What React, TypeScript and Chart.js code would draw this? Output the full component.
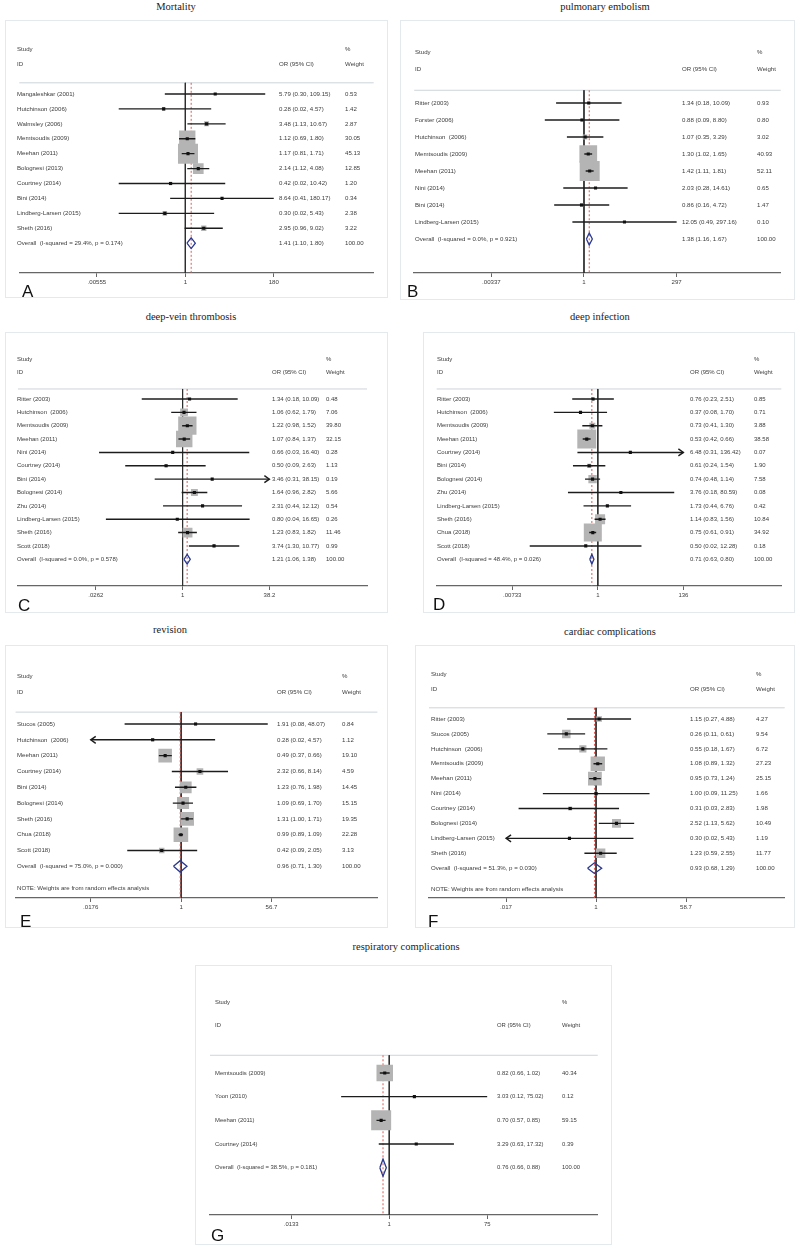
import React, { useEffect, useRef } from "react";
import { Chart, registerables } from "chart.js";

Chart.register(...registerables);

// ---------------- DATA ----------------
// A. Mortality
const studiesA = ["Mangaleshkar (2001)", "Hutchinson (2006)", "Walmsley (2006)", "Memtsoudis (2009)", "Meehan (2011)", "Bolognesi (2013)", "Courtney (2014)", "Bini (2014)", "Lindberg-Larsen (2015)", "Sheth (2016)"];
const orA = [5.79, 0.28, 3.48, 1.12, 1.17, 2.14, 0.42, 8.64, 0.30, 2.95];
const loA = [0.30, 0.02, 1.13, 0.69, 0.81, 1.12, 0.02, 0.41, 0.02, 0.96];
const hiA = [109.15, 4.57, 10.67, 1.80, 1.71, 4.08, 10.42, 180.17, 5.43, 9.02];
const weightA = [0.53, 1.42, 2.87, 30.05, 45.13, 12.85, 1.20, 0.34, 2.38, 3.22];
const arrowA = [0, 0, 0, 0, 0, 0, 0, 0, 0, 0];
const overallA = [1.41, 1.10, 1.80];
const overallLabelA = "Overall  (I-squared = 29.4%, p = 0.174)";
const ticksA = [0.00555, 1, 180.17];
const tickLabelsA = [".00555", "1", "180"];

// B. Pulmonary embolism
const studiesB = ["Ritter (2003)", "Forster (2006)", "Hutchinson  (2006)", "Memtsoudis (2009)", "Meehan (2011)", "Nini (2014)", "Bini (2014)", "Lindberg-Larsen (2015)"];
const orB = [1.34, 0.88, 1.07, 1.30, 1.42, 2.03, 0.86, 12.05];
const loB = [0.18, 0.09, 0.35, 1.02, 1.11, 0.28, 0.16, 0.49];
const hiB = [10.09, 8.80, 3.29, 1.65, 1.81, 14.61, 4.72, 297.16];
const weightB = [0.93, 0.80, 3.02, 40.93, 52.11, 0.65, 1.47, 0.10];
const arrowB = [0, 0, 0, 0, 0, 0, 0, 0];
const overallB = [1.38, 1.16, 1.67];
const overallLabelB = "Overall  (I-squared = 0.0%, p = 0.921)";
const ticksB = [0.00337, 1, 297.16];
const tickLabelsB = [".00337", "1", "297"];

// C. Deep-vein thrombosis
const studiesC = ["Ritter (2003)", "Hutchinson  (2006)", "Memtsoudis (2009)", "Meehan (2011)", "Nini (2014)", "Courtney (2014)", "Bini (2014)", "Bolognesi (2014)", "Zhu (2014)", "Lindberg-Larsen (2015)", "Sheth (2016)", "Scott (2018)"];
const orC = [1.34, 1.06, 1.22, 1.07, 0.66, 0.50, 3.46, 1.64, 2.31, 0.80, 1.23, 3.74];
const loC = [0.18, 0.62, 0.98, 0.84, 0.03, 0.09, 0.31, 0.96, 0.44, 0.04, 0.83, 1.30];
const hiC = [10.09, 1.79, 1.52, 1.37, 16.40, 2.63, 38.15, 2.82, 12.12, 16.65, 1.82, 10.77];
const weightC = [0.48, 7.06, 39.80, 32.15, 0.28, 1.13, 0.19, 5.66, 0.54, 0.26, 11.46, 0.99];
const arrowC = [0, 0, 0, 0, 0, 0, 1, 0, 0, 0, 0, 0];
const overallC = [1.21, 1.06, 1.38];
const overallLabelC = "Overall  (I-squared = 0.0%, p = 0.578)";
const ticksC = [0.0262, 1, 38.15];
const tickLabelsC = [".0262", "1", "38.2"];

// D. Deep infection
const studiesD = ["Ritter (2003)", "Hutchinson  (2006)", "Memtsoudis (2009)", "Meehan (2011)", "Courtney (2014)", "Bini (2014)", "Bolognesi (2014)", "Zhu (2014)", "Lindberg-Larsen (2015)", "Sheth (2016)", "Chua (2018)", "Scott (2018)"];
const orD = [0.76, 0.37, 0.73, 0.53, 6.48, 0.61, 0.74, 3.76, 1.73, 1.14, 0.75, 0.50];
const loD = [0.23, 0.08, 0.41, 0.42, 0.31, 0.24, 0.48, 0.18, 0.44, 0.83, 0.61, 0.02];
const hiD = [2.51, 1.70, 1.30, 0.66, 136.42, 1.54, 1.14, 80.59, 6.76, 1.56, 0.91, 12.28];
const weightD = [0.85, 0.71, 3.88, 38.58, 0.07, 1.90, 7.58, 0.08, 0.42, 10.84, 34.92, 0.18];
const arrowD = [0, 0, 0, 0, 1, 0, 0, 0, 0, 0, 0, 0];
const overallD = [0.71, 0.63, 0.80];
const overallLabelD = "Overall  (I-squared = 48.4%, p = 0.026)";
const ticksD = [0.00733, 1, 136.42];
const tickLabelsD = [".00733", "1", "136"];

// E. Revision
const studiesE = ["Stucos (2005)", "Hutchinson  (2006)", "Meehan (2011)", "Courtney (2014)", "Bini (2014)", "Bolognesi (2014)", "Sheth (2016)", "Chua (2018)", "Scott (2018)"];
const orE = [1.91, 0.28, 0.49, 2.32, 1.23, 1.09, 1.31, 0.99, 0.42];
const loE = [0.08, 0.02, 0.37, 0.66, 0.76, 0.69, 1.00, 0.89, 0.09];
const hiE = [48.07, 4.57, 0.66, 8.14, 1.98, 1.70, 1.71, 1.09, 2.05];
const weightE = [0.84, 1.12, 19.10, 4.59, 14.45, 15.15, 19.35, 22.28, 3.13];
const arrowE = [0, -1, 0, 0, 0, 0, 0, 0, 0];
const overallE = [0.96, 0.71, 1.30];
const overallLabelE = "Overall  (I-squared = 75.0%, p = 0.000)";
const ticksE = [0.0176, 1, 56.7];
const tickLabelsE = [".0176", "1", "56.7"];

// F. Cardiac complications
const studiesF = ["Ritter (2003)", "Stucos (2005)", "Hutchinson  (2006)", "Memtsoudis (2009)", "Meehan (2011)", "Nini (2014)", "Courtney (2014)", "Bolognesi (2014)", "Lindberg-Larsen (2015)", "Sheth (2016)"];
const orF = [1.15, 0.26, 0.55, 1.08, 0.95, 1.00, 0.31, 2.52, 0.30, 1.23];
const loF = [0.27, 0.11, 0.18, 0.89, 0.73, 0.09, 0.03, 1.13, 0.02, 0.59];
const hiF = [4.88, 0.61, 1.67, 1.32, 1.24, 11.25, 2.83, 5.62, 5.43, 2.55];
const weightF = [4.27, 9.54, 6.72, 27.23, 25.15, 1.66, 1.98, 10.49, 1.19, 11.77];
const arrowF = [0, 0, 0, 0, 0, 0, 0, 0, -1, 0];
const overallF = [0.93, 0.68, 1.29];
const overallLabelF = "Overall  (I-squared = 51.3%, p = 0.030)";
const ticksF = [0.017, 1, 58.7];
const tickLabelsF = [".017", "1", "58.7"];

// G. Respiratory complications
const studiesG = ["Memtsoudis (2009)", "Yoon (2010)", "Meehan (2011)", "Courtney (2014)"];
const orG = [0.82, 3.03, 0.70, 3.29];
const loG = [0.66, 0.12, 0.57, 0.63];
const hiG = [1.02, 75.02, 0.85, 17.32];
const weightG = [40.34, 0.12, 59.15, 0.39];
const arrowG = [0, 0, 0, 0];
const overallG = [0.76, 0.66, 0.88];
const overallLabelG = "Overall  (I-squared = 38.5%, p = 0.181)";
const ticksG = [0.0133, 1, 75.02];
const tickLabelsG = [".0133", "1", "75"];

const noteText = "NOTE: Weights are from random effects analysis";

// ---------------- LAYOUT (page pixels) ----------------
type Panel = {
  letter: string;
  title: string;
  titlePos: [number, number];
  studies: string[];
  or: number[];
  lo: number[];
  hi: number[];
  weight: number[];
  arrow: number[];
  overall: number[];
  overallLabel: string;
  ticks: number[];
  tickLabels: string[];
  note: boolean;
  box: [number, number, number, number];
  axis: [number, number, number]; // left end, null line, right end
  tickPx: number;
  axisY: number;
  y0: number;
  cols: [number, number, number];
  letterPos: [number, number];
  boxK: number;
  font: number;
};

const panels: Panel[] = [
  {
    letter: "A", title: "Mortality", titlePos: [176, 7],
    studies: studiesA, or: orA, lo: loA, hi: hiA, weight: weightA, arrow: arrowA,
    overall: overallA, overallLabel: overallLabelA, ticks: ticksA, tickLabels: tickLabelsA, note: false,
    box: [5, 20, 383, 278], axis: [13, 184, 378], tickPx: 275, axisY: 273, y0: 94,
    cols: [17, 279, 345], letterPos: [22, 297], boxK: 2.98, font: 6.1,
  },
  {
    letter: "B", title: "pulmonary embolism", titlePos: [605, 7],
    studies: studiesB, or: orB, lo: loB, hi: hiB, weight: weightB, arrow: arrowB,
    overall: overallB, overallLabel: overallLabelB, ticks: ticksB, tickLabels: tickLabelsB, note: false,
    box: [400, 20, 395, 280], axis: [410, 586, 790], tickPx: 682, axisY: 273, y0: 103,
    cols: [415, 682, 757], letterPos: [407, 297], boxK: 2.77, font: 6.1,
  },
  {
    letter: "C", title: "deep-vein thrombosis", titlePos: [191, 317],
    studies: studiesC, or: orC, lo: loC, hi: hiC, weight: weightC, arrow: arrowC,
    overall: overallC, overallLabel: overallLabelC, ticks: ticksC, tickLabels: tickLabelsC, note: false,
    box: [5, 332, 383, 281], axis: [13, 180, 367], tickPx: 268, axisY: 586, y0: 399,
    cols: [17, 272, 326], letterPos: [18, 611], boxK: 2.9, font: 6.0,
  },
  {
    letter: "D", title: "deep infection", titlePos: [600, 317],
    studies: studiesD, or: orD, lo: loD, hi: hiD, weight: weightD, arrow: arrowD,
    overall: overallD, overallLabel: overallLabelD, ticks: ticksD, tickLabels: tickLabelsD, note: false,
    box: [423, 332, 372, 281], axis: [435, 601, 790], tickPx: 689, axisY: 586, y0: 399,
    cols: [437, 690, 754], letterPos: [433, 610], boxK: 3.05, font: 6.0,
  },
  {
    letter: "E", title: "revision", titlePos: [170, 630],
    studies: studiesE, or: orE, lo: loE, hi: hiE, weight: weightE, arrow: arrowE,
    overall: overallE, overallLabel: overallLabelE, ticks: ticksE, tickLabels: tickLabelsE, note: true,
    box: [5, 645, 383, 283], axis: [13, 180, 378], tickPx: 271, axisY: 898, y0: 724,
    cols: [17, 277, 342], letterPos: [20, 927], boxK: 3.1, font: 6.1,
  },
  {
    letter: "F", title: "cardiac complications", titlePos: [610, 632],
    studies: studiesF, or: orF, lo: loF, hi: hiF, weight: weightF, arrow: arrowF,
    overall: overallF, overallLabel: overallLabelF, ticks: ticksF, tickLabels: tickLabelsF, note: true,
    box: [415, 645, 380, 283], axis: [429, 598, 789], tickPx: 689, axisY: 898, y0: 719,
    cols: [431, 690, 756], letterPos: [428, 927], boxK: 2.75, font: 6.1,
  },
  {
    letter: "G", title: "respiratory complications", titlePos: [406, 947],
    studies: studiesG, or: orG, lo: loG, hi: hiG, weight: weightG, arrow: arrowG,
    overall: overallG, overallLabel: overallLabelG, ticks: ticksG, tickLabels: tickLabelsG, note: false,
    box: [195, 965, 417, 280], axis: [210, 393, 606], tickPx: 493, axisY: 1215, y0: 1073,
    cols: [215, 497, 562], letterPos: [211, 1241], boxK: 2.6, font: 5.9,
  },
];

const SANS = '"Liberation Sans", Arial, Helvetica, sans-serif';
const SERIF = '"Liberation Serif", "Times New Roman", serif';

function fmt(v: number) {
  return v.toFixed(2);
}

function buildConfig(p: Panel): any {
  const n = p.studies.length;
  const [bx, by, bw, bh] = p.box;
  const [L, N, R] = p.axis;
  const tMin = p.ticks[0];
  const tMax = p.ticks[p.ticks.length - 1];
  const k = (p.tickPx - N) / Math.log(tMax);
  const xmin = Math.exp((L - N) / k);
  const xmax = Math.exp((R - N) / k);
  const s = (p.axisY - p.y0) / (n + 2);
  const yTop = -3.5;
  const yBottom = n + 2;
  const chartTop = p.y0 + yTop * s;
  const padTop = chartTop - by;
  const axisH = by + bh - p.axisY;
  const sepY = -0.75;

  const datasets: any[] = [];
  datasets.push({
    data: [{ x: 1, y: sepY }, { x: 1, y: yBottom }],
    showLine: true, borderColor: "#2e2e2e", borderWidth: 1, pointRadius: 0, order: 10,
  });
  datasets.push({
    data: [{ x: xmin, y: sepY }, { x: xmax, y: sepY }],
    showLine: true, borderColor: "#cdd4da", borderWidth: 1, pointRadius: 0, order: 10,
  });
  datasets.push({
    data: [{ x: p.overall[0], y: sepY }, { x: p.overall[0], y: yBottom }],
    showLine: true, borderColor: "#e05a52", borderWidth: 1, borderDash: [2, 2], pointRadius: 0, order: 9,
  });
  datasets.push({
    data: p.or.map((v, i) => ({ x: v, y: i })),
    pointStyle: "rect",
    pointRadius: p.weight.map((w) => (p.boxK * Math.sqrt(w)) / Math.SQRT2),
    backgroundColor: "#b4b4b4", borderWidth: 0, order: 8,
  });
  p.or.forEach((_, i) => {
    const lo = p.arrow[i] < 0 ? tMin : p.lo[i];
    const hi = p.arrow[i] > 0 ? tMax : p.hi[i];
    datasets.push({
      data: [{ x: lo, y: i }, { x: hi, y: i }],
      showLine: true, borderColor: "#1c1c1c", borderWidth: 1.4, pointRadius: 0, order: 5,
    });
  });
  datasets.push({
    data: p.or.map((v, i) => ({ x: v, y: i })),
    pointStyle: "rect", pointRadius: 2.2, backgroundColor: "#111", borderWidth: 0, order: 2,
  });
  const [e, l, u] = p.overall;
  const h = 0.36;
  datasets.push({
    data: [{ x: l, y: n }, { x: e, y: n - h }, { x: u, y: n }, { x: e, y: n + h }, { x: l, y: n }],
    showLine: true, borderColor: "#2b3990", borderWidth: 1.3, borderJoinStyle: "miter",
    pointRadius: 0, order: 1, tension: 0,
  });

  const plugin = {
    id: "forestText" + p.letter,
    beforeDraw(chart: any) {
      const ctx = chart.ctx;
      ctx.save();
      ctx.strokeStyle = "#e4e9ee";
      ctx.lineWidth = 1;
      ctx.strokeRect(0.5, 0.5, bw - 1, bh - 1);
      ctx.restore();
    },
    afterDatasetsDraw(chart: any) {
      const ctx = chart.ctx;
      const ys = chart.scales.y;
      const xs = chart.scales.x;
      const sx = p.cols[0] - bx;
      const ox = p.cols[1] - bx;
      const wx = p.cols[2] - bx;
      ctx.save();
      ctx.font = `${p.font}px ${SANS}`;
      ctx.fillStyle = "#3c3c3c";
      ctx.textBaseline = "middle";
      ctx.textAlign = "left";
      ctx.fillText("Study", sx, ys.getPixelForValue(-3));
      ctx.fillText("ID", sx, ys.getPixelForValue(-2));
      ctx.fillText("%", wx, ys.getPixelForValue(-3));
      ctx.fillText("Weight", wx, ys.getPixelForValue(-2));
      ctx.fillText("OR (95% CI)", ox, ys.getPixelForValue(-2));
      p.studies.forEach((name, i) => {
        const yy = ys.getPixelForValue(i);
        ctx.fillText(name, sx, yy);
        ctx.fillText(`${fmt(p.or[i])} (${fmt(p.lo[i])}, ${fmt(p.hi[i])})`, ox, yy);
        ctx.fillText(fmt(p.weight[i]), wx, yy);
      });
      const yo = ys.getPixelForValue(n);
      ctx.fillText(p.overallLabel, sx, yo);
      ctx.fillText(`${fmt(p.overall[0])} (${fmt(p.overall[1])}, ${fmt(p.overall[2])})`, ox, yo);
      ctx.fillText("100.00", wx, yo);
      if (p.note) ctx.fillText(noteText, sx, ys.getPixelForValue(n + 1.4));

      // arrows for truncated CIs
      ctx.strokeStyle = "#1c1c1c";
      ctx.lineWidth = 1.4;
      p.arrow.forEach((a, i) => {
        if (!a) return;
        const yy = ys.getPixelForValue(i);
        const tip = xs.getPixelForValue(a > 0 ? tMax : tMin);
        ctx.beginPath();
        ctx.moveTo(tip - a * 5, yy - 3.5);
        ctx.lineTo(tip, yy);
        ctx.lineTo(tip - a * 5, yy + 3.5);
        ctx.stroke();
      });

      // panel letter
      ctx.font = `17px ${SANS}`;
      ctx.fillStyle = "#111";
      ctx.textBaseline = "alphabetic";
      ctx.fillText(p.letter, p.letterPos[0] - bx, p.letterPos[1] - by);
      ctx.restore();
    },
  };

  return {
    type: "scatter",
    data: { datasets },
    plugins: [plugin],
    options: {
      animation: false,
      responsive: false,
      maintainAspectRatio: false,
      events: [],
      layout: { padding: { left: L - bx, right: bx + bw - R, top: padTop, bottom: 0 } },
      plugins: { legend: { display: false }, tooltip: { enabled: false }, title: { display: false } },
      scales: {
        x: {
          type: "logarithmic",
          position: "bottom",
          min: xmin,
          max: xmax,
          bounds: "data",
          afterBuildTicks: (scale: any) => {
            scale.ticks = p.ticks.map((v) => ({ value: v }));
          },
          afterFit: (scale: any) => {
            scale.height = axisH;
          },
          ticks: {
            callback: (_v: any, i: number) => p.tickLabels[i],
            autoSkip: false,
            maxRotation: 0,
            minRotation: 0,
            padding: 2,
            color: "#3c3c3c",
            font: { size: p.font, family: SANS },
          },
          grid: { drawOnChartArea: false, drawTicks: true, tickLength: 4, color: "#666", lineWidth: 1 },
          border: { display: true, color: "#666", width: 1.3 },
        },
        y: { type: "linear", reverse: true, min: yTop, max: yBottom, display: false },
      },
    },
  };
}

function ForestPanel({ p }: { p: Panel }) {
  const ref = useRef<HTMLCanvasElement | null>(null);
  useEffect(() => {
    if (!ref.current) return;
    const chart = new Chart(ref.current, buildConfig(p));
    return () => chart.destroy();
  }, [p]);
  const [bx, by, bw, bh] = p.box;
  return (
    <canvas
      ref={ref}
      width={bw}
      height={bh}
      style={{ position: "absolute", left: bx, top: by, width: bw, height: bh }}
    />
  );
}

export default function App() {
  return (
    <div style={{ position: "absolute", left: 0, top: 0, width: 800, height: 1245, background: "#fff", overflow: "hidden" }}>
      {panels.map((p) => (
        <React.Fragment key={p.letter}>
          <div
            style={{
              position: "absolute",
              left: p.titlePos[0] - 120,
              top: p.titlePos[1] - 8,
              width: 240,
              height: 16,
              lineHeight: "16px",
              textAlign: "center",
              fontFamily: SERIF,
              fontSize: 10.5,
              color: "#1a1a1a",
              whiteSpace: "nowrap",
            }}
          >
            {p.title}
          </div>
          <ForestPanel p={p} />
        </React.Fragment>
      ))}
    </div>
  );
}
